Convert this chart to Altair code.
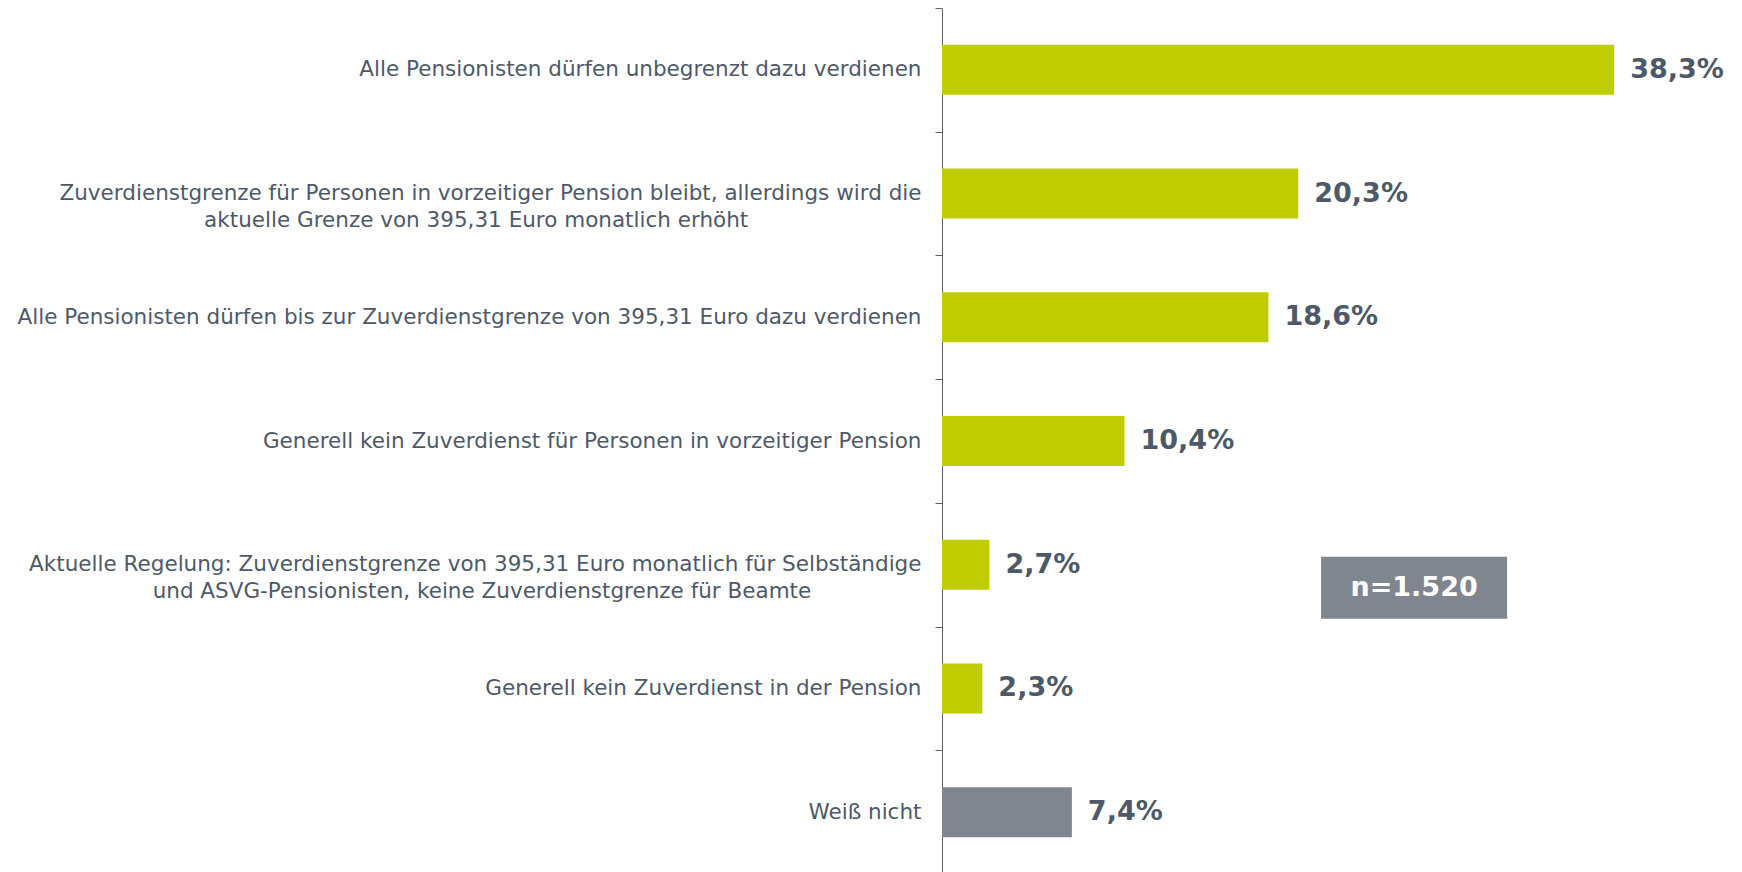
import altair as alt
import pandas as pd

PAD = "\u2800"  # blank filler so that the 2nd line sits centred under the 1st

categories = [
    "Alle Pensionisten dürfen unbegrenzt dazu verdienen",
    "Zuverdienstgrenze für Personen in vorzeitiger Pension bleibt, allerdings wird die|aktuelle Grenze von 395,31 Euro monatlich erhöht" + PAD * 11,
    "Alle Pensionisten dürfen bis zur Zuverdienstgrenze von 395,31 Euro dazu verdienen",
    "Generell kein Zuverdienst für Personen in vorzeitiger Pension",
    "Aktuelle Regelung: Zuverdienstgrenze von 395,31 Euro monatlich für Selbständige|und ASVG-Pensionisten, keine Zuverdienstgrenze für Beamte" + PAD * 7,
    "Generell kein Zuverdienst in der Pension",
    "Weiß nicht",
]
values = [38.3, 20.3, 18.6, 10.4, 2.7, 2.3, 7.4]
groups = ["Antwort", "Antwort", "Antwort", "Antwort", "Antwort", "Antwort", "Weiß nicht"]

# annotation box (sample size)
n_text = ["n=1.520"]
n_category = [categories[4]]
n_x_start = [21.6]
n_x_end = [32.2]
n_x_mid = [26.9]

GREEN = "#bfcd00"
GREY = "#7f868f"
TEXT = "#4e5967"

df = pd.DataFrame({"cat": categories, "value": values, "group": groups})
ndf = pd.DataFrame({"cat": n_category, "label": n_text, "x0": n_x_start, "x1": n_x_end, "xm": n_x_mid})

y_enc = alt.Y(
    "cat:N",
    sort=categories,
    title=None,
    scale=alt.Scale(paddingInner=0, paddingOuter=0),
    axis=alt.Axis(
        labelExpr="split(datum.label, '|')",
        labelFont="DejaVu Sans",
        labelFontSize=21.5,
        labelColor=TEXT,
        labelLineHeight=27,
        labelPadding=14,
        labelLimit=1000,
        labelAlign="right",
        tickColor="#59636e",
        domainColor="#59636e",
        tickSize=7,
        tickWidth=1,
        domainWidth=1,
        tickBand="extent",
        grid=False,
    ),
)

x_scale = alt.Scale(domain=[0, 40], nice=False)

bars = alt.Chart(df).mark_bar(size=50).encode(
    y=y_enc,
    x=alt.X("value:Q", scale=x_scale, axis=None),
    color=alt.Color("group:N", scale=alt.Scale(domain=["Antwort", "Weiß nicht"], range=[GREEN, GREY]), legend=None),
)

labels = alt.Chart(df).transform_calculate(
    lbl="replace(format(datum.value, '.1f'), '.', ',') + '%'"
).mark_text(
    align="left", baseline="middle", dx=16, fontSize=27, fontWeight="bold",
    font="DejaVu Sans", color=TEXT
).encode(
    y=alt.Y("cat:N", sort=categories),
    x=alt.X("value:Q", scale=x_scale),
    text="lbl:N",
)

nbox = alt.Chart(ndf).mark_bar(size=62, yOffset=23, color=GREY).encode(
    y=alt.Y("cat:N", sort=categories),
    x=alt.X("x0:Q", scale=x_scale),
    x2="x1:Q",
)
ntext = alt.Chart(ndf).mark_text(
    yOffset=23, fontSize=27, fontWeight="bold", font="DejaVu Sans", color="white",
    align="center", baseline="middle"
).encode(
    y=alt.Y("cat:N", sort=categories),
    x=alt.X("xm:Q", scale=x_scale),
    text="label:N",
)

chart = alt.layer(bars, labels, nbox, ntext).properties(
    width=702,
    height=866,
    background="white",
    autosize=alt.AutoSizeParams(type="none"),
    padding={"left": 934, "top": 0, "right": 90, "bottom": 0},
).configure_view(stroke=None)

chart.save("out.html", embed_options={"renderer": "svg", "actions": False})
